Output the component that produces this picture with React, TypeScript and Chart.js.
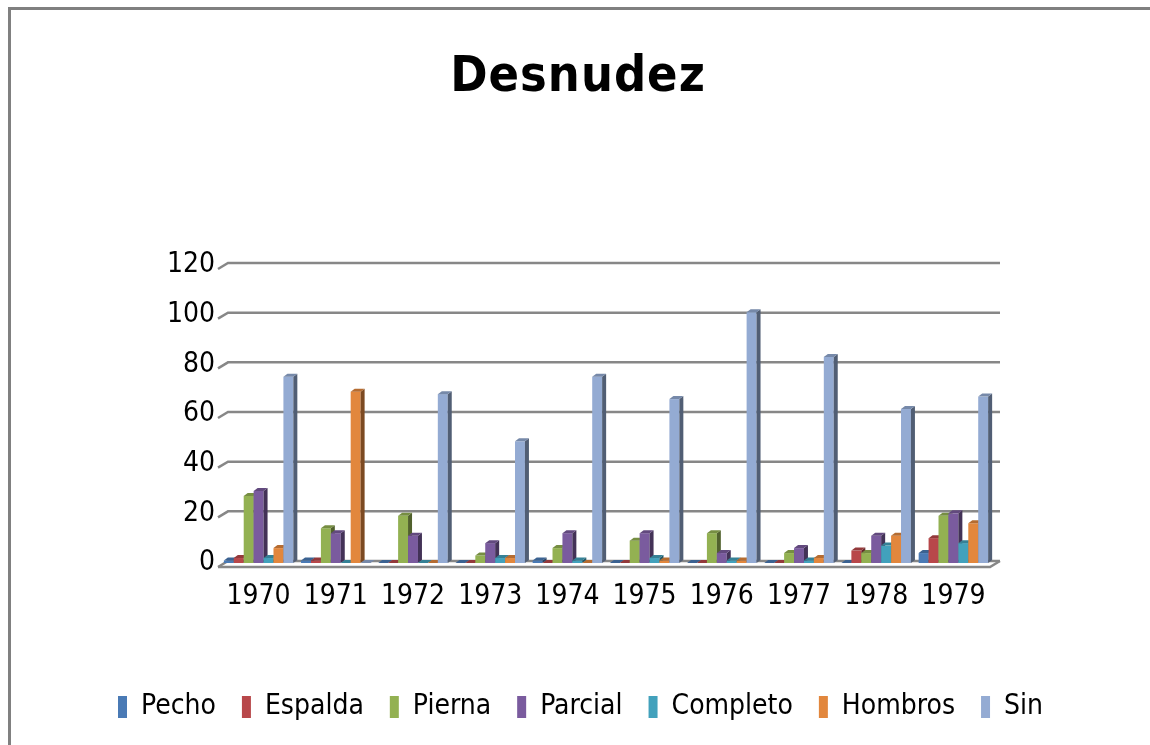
import React, { useEffect, useRef } from 'react';
import { Chart, registerables } from 'chart.js';

Chart.register(...registerables);

const FONT = "'Liberation Sans Narrow', 'DejaVu Sans Condensed', 'Liberation Sans', sans-serif";

const chartTitle = 'Desnudez';
const categories = ['1970', '1971', '1972', '1973', '1974', '1975', '1976', '1977', '1978', '1979'];
const seriesNames = ['Pecho', 'Espalda', 'Pierna', 'Parcial', 'Completo', 'Hombros', 'Sin'];
const pecho = [1, 1, 0, 0, 1, 0, 0, 0, 0, 4];
const espalda = [2, 1, 0, 0, 0, 0, 0, 0, 5, 10];
const pierna = [27, 14, 19, 3, 6, 9, 12, 4, 4, 19];
const parcial = [29, 12, 11, 8, 12, 12, 4, 6, 11, 20];
const completo = [2, 0, 0, 2, 1, 2, 1, 1, 7, 8];
const hombros = [6, 69, 0, 2, 0, 1, 1, 2, 11, 16];
const sin = [75, 0, 68, 49, 75, 66, 101, 83, 62, 67];
const seriesValues = [pecho, espalda, pierna, parcial, completo, hombros, sin];
const seriesColors = ['#4A7AB5', '#B8474A', '#93B152', '#7A5B9E', '#42A1BC', '#E2873D', '#94ABD3'];
const yTicks = { min: 0, max: 120, step: 20 };

const GRID = '#878787';
const DX = 4;
const DY = 3;

function shade(hex: string, f: number) {
  const n = parseInt(hex.slice(1), 16);
  const r = Math.round(((n >> 16) & 255) * f);
  const g = Math.round(((n >> 8) & 255) * f);
  const b = Math.round((n & 255) * f);
  return `rgb(${r},${g},${b})`;
}

const bars3d = {
  id: 'bars3d',
  beforeDatasetsDraw(chart: any) {
    const ctx = chart.ctx as CanvasRenderingContext2D;
    const { left, right } = chart.chartArea;
    const ys = chart.scales.y;
    ctx.save();
    ctx.strokeStyle = GRID;
    ctx.lineWidth = 2.5;
    ctx.lineCap = 'butt';
    ys.ticks.forEach((t: any) => {
      const py = ys.getPixelForValue(t.value);
      ctx.beginPath();
      ctx.moveTo(left - 2, py + 4);
      ctx.lineTo(left + 8, py - 2);
      ctx.lineTo(right + 8, py - 2);
      ctx.stroke();
    });
    const base = ys.getPixelForValue(0);
    ctx.beginPath();
    ctx.moveTo(left - 2, base + 4);
    ctx.lineTo(right - 2, base + 4);
    ctx.lineTo(right + 8, base - 2);
    ctx.stroke();

    const metas = chart.data.datasets.map((_: any, i: number) => chart.getDatasetMeta(i));
    for (let c = 0; c < categories.length; c++) {
      metas.forEach((meta: any, di: number) => {
        const el = meta.data[c];
        if (!el) return;
        const p = el.getProps(['x', 'y', 'base', 'width'], true);
        const col = seriesColors[di];
        const x0 = p.x - p.width / 2;
        const x1 = p.x + p.width / 2;
        const top = Math.min(p.y, p.base);
        const bot = Math.max(p.y, p.base);
        ctx.fillStyle = col;
        ctx.fillRect(x0, top, x1 - x0, bot - top);
        ctx.fillStyle = shade(col, 0.55);
        ctx.beginPath();
        ctx.moveTo(x1, top);
        ctx.lineTo(x1 + DX, top - DY);
        ctx.lineTo(x1 + DX, bot - DY);
        ctx.lineTo(x1, bot);
        ctx.closePath();
        ctx.fill();
        ctx.fillStyle = shade(col, 0.8);
        ctx.beginPath();
        ctx.moveTo(x0, top);
        ctx.lineTo(x0 + DX, top - DY);
        ctx.lineTo(x1 + DX, top - DY);
        ctx.lineTo(x1, top);
        ctx.closePath();
        ctx.fill();
      });
    }
    ctx.restore();
    return false;
  },
  afterDraw(chart: any) {
    const ctx = chart.ctx as CanvasRenderingContext2D;
    ctx.save();
    ctx.font = `bold 50px ${FONT}`;
    (ctx as any).letterSpacing = '1px';
    ctx.fillStyle = '#000';
    ctx.textAlign = 'center';
    ctx.textBaseline = 'middle';
    ctx.fillText(chartTitle, 567, 68);
    ctx.restore();
  },
};

export default function App() {
  const ref = useRef<HTMLCanvasElement>(null);
  useEffect(() => {
    if (!ref.current) return;
    const chart = new Chart(ref.current, {
      type: 'bar',
      data: {
        labels: categories,
        datasets: seriesNames.map((name, i) => ({
          label: name,
          data: seriesValues[i],
          backgroundColor: seriesColors[i],
          borderWidth: 0,
          categoryPercentage: 0.9,
          barPercentage: 1.0,
        })),
      },
      options: {
        animation: false,
        responsive: true,
        maintainAspectRatio: false,
        layout: { padding: { top: 255, left: 0, right: 0, bottom: 0 } },
        plugins: {
          title: { display: false },
          tooltip: { enabled: false },
          legend: {
            position: 'bottom',
            labels: {
              font: { size: 28, family: FONT },
              color: '#000',
              boxWidth: 9,
              boxHeight: 22,
              padding: 26,
            },
          },
        },
        scales: {
          x: {
            grid: { display: false, drawTicks: false },
            border: { display: false },
            ticks: { font: { size: 28, family: FONT }, color: '#000', padding: 17, maxRotation: 0 },
            afterFit: (s: any) => { s.height = 104; },
          },
          y: {
            min: yTicks.min,
            max: yTicks.max,
            grid: { display: false, drawTicks: false },
            border: { display: false },
            ticks: { stepSize: yTicks.step, font: { size: 28, family: FONT }, color: '#000', padding: 5 },
            afterFit: (s: any) => { s.width = 209; },
          },
          yR: {
            type: 'linear',
            position: 'right',
            display: true,
            grid: { display: false, drawTicks: false },
            border: { display: false },
            ticks: { display: false },
            afterFit: (s: any) => { s.width = 158; },
          },
        },
      },
      plugins: [bars3d],
    } as any);
    return () => chart.destroy();
  }, []);

  return (
    <div
      style={{
        position: 'fixed',
        left: 8,
        top: 7,
        width: 1142,
        height: 738,
        borderLeft: '3px solid #808080',
        borderTop: '3px solid #808080',
        boxSizing: 'border-box',
        overflow: 'hidden',
        background: '#fff',
      }}
    >
      <div style={{ position: 'relative', width: 1139, height: 721 }}>
        <canvas ref={ref} />
      </div>
    </div>
  );
}
